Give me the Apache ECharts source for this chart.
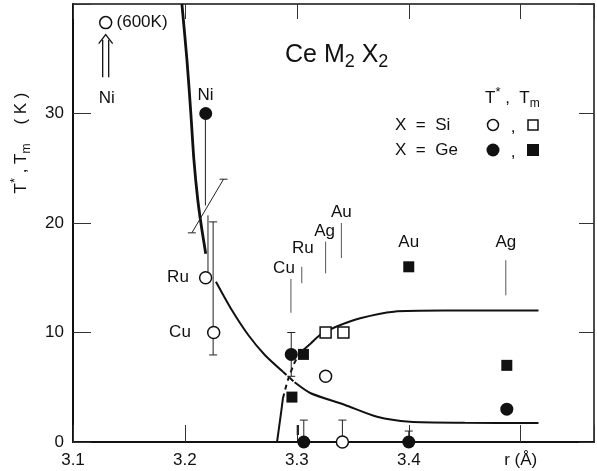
<!DOCTYPE html>
<html>
<head>
<meta charset="utf-8">
<script src="https://cdn.jsdelivr.net/npm/echarts@6/dist/echarts.min.js"></script>
<style>
  html, body { margin: 0; padding: 0; background: #fff; }
  #chart { width: 597px; height: 471px; }
</style>
</head>
<body>
<div id="chart"></div>
<script>
// axis ticks
var xTicks = [3.1, 3.2, 3.3, 3.4, 3.5];
var xTickLabels = ['3.1', '3.2', '3.3', '3.4', 'r (Å)'];
var yTicks = [0, 10, 20, 30, 40];
var yTickLabels = ['0', '10', '20', '30', ''];

// T*  (circles) and Tm (squares), X = Si open, X = Ge filled
var siTstar = [[3.1292, 38.3], [3.2185, 15.0], [3.2257, 10.0], [3.3257, 6.0], [3.3407, 0]];
var siTm = [[3.3257, 10.0], [3.3416, 10.0]];
var geTstar = [[3.2186, 30.0], [3.2950, 8.0], [3.3062, 0], [3.4000, 0], [3.4876, 3.0]];
var geTm = [[3.2956, 4.1], [3.3059, 8.0], [3.4000, 16.0], [3.4876, 7.0]];

// guide curves
var steepCurve = [[3.1973, 40], [3.2018, 34.9], [3.2053, 30.0], [3.2080, 25.8], [3.2115, 22.1],
                  [3.2150, 19.5], [3.2186, 17.2]];
var downCurve = [[3.2277, 14.64], [3.2419, 12.05], [3.2566, 9.77], [3.2714, 7.95], [3.2876, 6.42]];
var downDashed = [[3.2876, 6.42], [3.298, 5.45]];
var downTail = [[3.298, 5.45], [3.3124, 4.45], [3.3425, 3.4], [3.3717, 2.3], [3.4009, 1.85],
                [3.45, 1.76], [3.5159, 1.74]];
var upStart = [[3.2823, 0], [3.2850, 2.0], [3.2876, 4.0]];
var upDashed = [[3.2876, 4.0], [3.292, 5.66], [3.2982, 7.3], [3.3035, 8.2]];
var upTail = [[3.3035, 8.2], [3.3124, 9.0], [3.3212, 9.8], [3.3345, 10.5], [3.3566, 11.3],
              [3.3867, 11.9], [3.431, 12.0], [3.5159, 12.0]];

// error bars: x, low, high, cap at low, cap at high
var errBars = [
  [3.2183, 21.6, 30.0, 0, 0],
  [3.2206, 15.0, 20.7, 0, 0],
  [3.2252, 7.95, 20.1, 1, 1],
  [3.2950, 6.0, 10.0, 1, 1],
  [3.3062, 0, 2.0, 0, 1],
  [3.3407, 0, 2.0, 0, 1],
  [3.4000, 0, 1.0, 0, 1],
  [3.3003, 0.64, 1.55, 0, 0],
  [3.3015, 0.64, 1.55, 0, 0]
];
// slanted bar: x1, y1, x2, y2
var slantBars = [[3.2062, 19.1, 3.2345, 24.0]];
// thin pointer lines under labels: x, low, high
var labelLines = [[3.2947, 11.8, 14.9], [3.3044, 14.5, 16.0], [3.3257, 15.4, 18.3],
                  [3.3398, 16.8, 20.0], [3.4867, 13.4, 16.6]];
// double arrow: x, low, tip
var arrows = [[3.1292, 33.3, 37.2]];
// point labels: x, y, text, align
var pointLabels = [
  [3.1301, 31.4, 'Ni', 'center'],
  [3.1389, 38.3, '(600K)', 'left'],
  [3.2183, 31.7, 'Ni', 'center'],
  [3.2035, 15.0, 'Ru', 'right'],
  [3.2053, 10.0, 'Cu', 'right'],
  [3.2885, 15.9, 'Cu', 'center'],
  [3.3053, 17.7, 'Ru', 'center'],
  [3.3248, 19.2, 'Ag', 'center'],
  [3.3398, 21.0, 'Au', 'center'],
  [3.4000, 18.2, 'Au', 'center'],
  [3.4867, 18.2, 'Ag', 'center']
];

var FONT = 'Liberation Sans';
var INK = '#111';

function tickText(v, ticks, labels) {
  for (var i = 0; i < ticks.length; i++) {
    if (Math.abs(v - ticks[i]) < 1e-6) return labels[i];
  }
  return '';
}

function line(a, b, w, color) {
  return { type: 'line', shape: { x1: a[0], y1: a[1], x2: b[0], y2: b[1] },
           style: { stroke: color || INK, lineWidth: w || 1 } };
}

function curve(data, width, dashed) {
  return {
    type: 'line', data: data, showSymbol: false, smooth: 0.25, z: 2,
    lineStyle: { color: INK, width: width, type: dashed ? [5, 4] : 'solid' },
    silent: true
  };
}

function marker(data, symbol, size, filled) {
  return {
    type: 'scatter', data: data, symbol: symbol, symbolSize: size, z: 5,
    itemStyle: { color: filled ? INK : '#fff', borderColor: INK, borderWidth: filled ? 0 : 1.5, opacity: 1 }
  };
}

var myChart = echarts.init(document.getElementById('chart'));
myChart.setOption({
  animation: false,
  grid: { left: 73, right: -2, top: 4, bottom: 29 },
  textStyle: { fontFamily: FONT },
  xAxis: [{
    type: 'value', min: 3.1, max: 3.5655, interval: 0.1, position: 'bottom',
    axisLine: { onZero: false, lineStyle: { color: INK, width: 2 } },
    axisTick: { inside: true, length: 17, lineStyle: { color: '#333', width: 1 } },
    axisLabel: { margin: 10, fontSize: 17, color: INK, fontFamily: FONT,
      formatter: function (v) { return tickText(v, xTicks, xTickLabels); } },
    splitLine: { show: false }
  }, {
    type: 'value', min: 3.1, max: 3.5655, interval: 0.1, position: 'top',
    axisLine: { show: true, onZero: false, lineStyle: { color: INK, width: 1.5 } },
    axisTick: { inside: true, length: 15, lineStyle: { color: '#333', width: 1 } },
    axisLabel: { show: false },
    splitLine: { show: false }
  }],
  yAxis: [{
    type: 'value', min: 0, max: 40, interval: 10, position: 'left',
    axisLine: { show: true, onZero: false, lineStyle: { color: INK, width: 2 } },
    axisTick: { show: true, inside: true, length: 18, lineStyle: { color: '#333', width: 1 } },
    axisLabel: { margin: 9, fontSize: 17, color: INK, fontFamily: FONT,
      formatter: function (v) { return tickText(v, yTicks, yTickLabels); } },
    splitLine: { show: false }
  }, {
    type: 'value', min: 0, max: 40, interval: 10, position: 'right',
    axisLine: { show: true, onZero: false, lineStyle: { color: INK, width: 1.5 } },
    axisTick: { show: true, inside: true, length: 15, lineStyle: { color: '#333', width: 1 } },
    axisLabel: { show: false },
    splitLine: { show: false }
  }],
  graphic: [
    { type: 'text', x: 21, y: 143, rotation: Math.PI / 2,
      style: { text: 'T{sup|*} , T{sub|m}    ( K )', fontSize: 17, fontFamily: FONT, fill: INK,
        align: 'center', verticalAlign: 'middle', lineHeight: 24,
        rich: { sup: { fontSize: 13, verticalAlign: 'top', lineHeight: 13, fontFamily: FONT },
                sub: { fontSize: 12, verticalAlign: 'bottom', lineHeight: 12, fontFamily: FONT } } } },
    { type: 'text', x: 285, y: 55,
      style: { text: 'Ce M{sub|2} X{sub|2}', fontSize: 25, fontFamily: FONT, fill: INK,
        verticalAlign: 'middle', lineHeight: 32,
        rich: { sub: { fontSize: 18, verticalAlign: 'bottom', lineHeight: 18, fontFamily: FONT } } } },
    { type: 'text', x: 485, y: 98,
      style: { text: 'T{sup|*} ,  T{sub|m}', fontSize: 17, fontFamily: FONT, fill: INK,
        verticalAlign: 'middle', lineHeight: 24,
        rich: { sup: { fontSize: 13, verticalAlign: 'top', lineHeight: 13, fontFamily: FONT },
                sub: { fontSize: 12, verticalAlign: 'bottom', lineHeight: 12, fontFamily: FONT } } } },
    { type: 'text', x: 395, y: 125, style: { text: 'X  =  Si', fontSize: 17, fontFamily: FONT, fill: INK, verticalAlign: 'middle' } },
    { type: 'text', x: 395, y: 150, style: { text: 'X  =  Ge', fontSize: 17, fontFamily: FONT, fill: INK, verticalAlign: 'middle' } },
    { type: 'circle', shape: { cx: 493, cy: 125, r: 5.5 }, style: { fill: '#fff', stroke: INK, lineWidth: 1.5 } },
    { type: 'text', x: 513, y: 127, style: { text: ',', fontSize: 17, fontFamily: FONT, fill: INK, align: 'center', verticalAlign: 'middle' } },
    { type: 'rect', shape: { x: 528, y: 120, width: 10, height: 10 }, style: { fill: '#fff', stroke: INK, lineWidth: 1.5 } },
    { type: 'circle', shape: { cx: 493, cy: 150, r: 6.5 }, style: { fill: INK } },
    { type: 'text', x: 513, y: 152, style: { text: ',', fontSize: 17, fontFamily: FONT, fill: INK, align: 'center', verticalAlign: 'middle' } },
    { type: 'rect', shape: { x: 527, y: 144, width: 12, height: 12 }, style: { fill: INK } }
  ],
  series: [
    curve(steepCurve, 2.8, false),
    curve(downCurve, 2, false),
    curve(downDashed, 2, true),
    curve(downTail, 2, false),
    curve(upStart, 2, false),
    curve(upDashed, 2, true),
    curve(upTail, 2, false),
    {
      type: 'custom', z: 3, silent: true,
      data: errBars.map(function (d) { return [d[0], d[1], d[2]]; }),
      encode: { x: 0, y: [1, 2] },
      renderItem: function (params, api) {
        var d = errBars[params.dataIndex];
        var lo = api.coord([d[0], d[1]]);
        var hi = api.coord([d[0], d[2]]);
        var c = [line(lo, hi, 1, '#222')];
        if (d[3]) c.push(line([lo[0] - 4, lo[1]], [lo[0] + 4, lo[1]], 1, '#222'));
        if (d[4]) c.push(line([hi[0] - 4, hi[1]], [hi[0] + 4, hi[1]], 1, '#222'));
        return { type: 'group', children: c };
      }
    },
    {
      type: 'custom', z: 3, silent: true,
      data: slantBars.map(function (d) { return [d[0], d[1], d[2], d[3]]; }),
      encode: { x: [0, 2], y: [1, 3] },
      renderItem: function (params, api) {
        var d = slantBars[params.dataIndex];
        var a = api.coord([d[0], d[1]]);
        var b = api.coord([d[2], d[3]]);
        return { type: 'group', children: [
          line(a, b, 1, '#222'),
          line([a[0] - 4, a[1]], [a[0] + 4, a[1]], 1, '#222'),
          line([b[0] - 4, b[1]], [b[0] + 4, b[1]], 1, '#222')
        ] };
      }
    },
    {
      type: 'custom', z: 3, silent: true,
      data: labelLines.map(function (d) { return [d[0], d[1], d[2]]; }),
      encode: { x: 0, y: [1, 2] },
      renderItem: function (params, api) {
        var d = labelLines[params.dataIndex];
        return line(api.coord([d[0], d[1]]), api.coord([d[0], d[2]]), 1, '#555');
      }
    },
    {
      type: 'custom', z: 3, silent: true,
      data: arrows.map(function (d) { return [d[0], d[1], d[2]]; }),
      encode: { x: 0, y: [1, 2] },
      renderItem: function (params, api) {
        var d = arrows[params.dataIndex];
        var lo = api.coord([d[0], d[1]]);
        var tip = api.coord([d[0], d[2]]);
        var x = lo[0];
        return { type: 'group', children: [
          line([x - 3, lo[1]], [x - 3, tip[1] + 5], 1.3),
          line([x + 3, lo[1]], [x + 3, tip[1] + 5], 1.3),
          { type: 'polyline', shape: { points: [[x - 7, tip[1] + 9], [x, tip[1]], [x + 7, tip[1] + 9]] },
            style: { stroke: INK, lineWidth: 1.3, fill: null } }
        ] };
      }
    },
    {
      type: 'custom', z: 6, silent: true,
      data: pointLabels.map(function (d) { return [d[0], d[1]]; }),
      encode: { x: 0, y: 1 },
      renderItem: function (params, api) {
        var d = pointLabels[params.dataIndex];
        var p = api.coord([d[0], d[1]]);
        return { type: 'text', x: p[0], y: p[1],
          style: { text: d[2], align: d[3], verticalAlign: 'middle', fontSize: 17, fontFamily: FONT, fill: INK } };
      }
    },
    marker(siTstar, 'circle', 12, false),
    marker(siTm, 'rect', 11, false),
    marker(geTstar, 'circle', 13, true),
    marker(geTm, 'rect', 11, true)
  ]
});
window.addEventListener('resize', function () { myChart.resize(); });
</script>
</body>
</html>
